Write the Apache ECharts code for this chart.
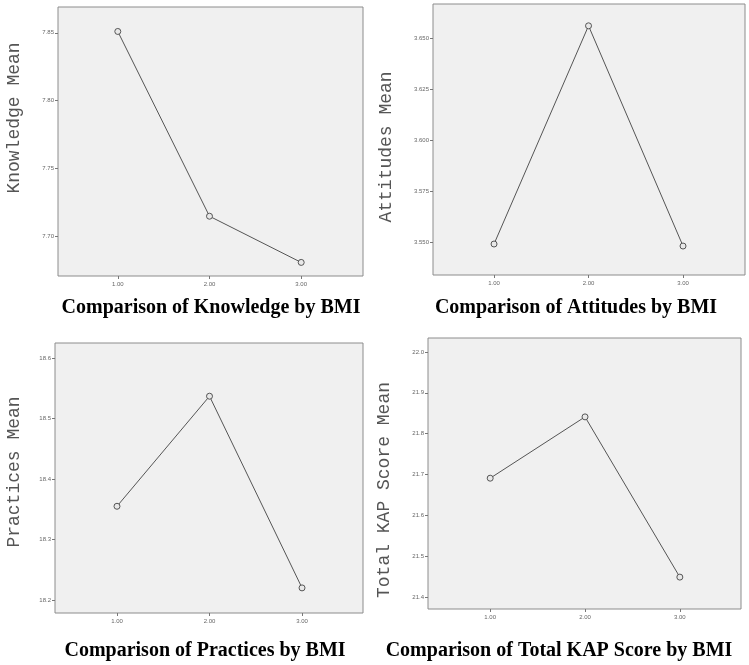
<!DOCTYPE html>
<html>
<head>
<meta charset="utf-8">
<script src="https://cdn.jsdelivr.net/npm/echarts@6/dist/echarts.min.js"></script>
<style>
  html, body { margin: 0; padding: 0; background: #fff; }
  #chart { width: 749px; height: 665px; }
</style>
</head>
<body>
<div id="chart"></div>
<script>
// BMI groups on the x axis
var bmiGroups = [1, 2, 3];
var xTicks = [1, 2, 3];

// group means
var knowledgeMean = [7.851, 7.715, 7.681];
var attitudesMean = [3.549, 3.656, 3.548];
var practicesMean = [18.355, 18.537, 18.220];
var totalKapMean = [21.691, 21.841, 21.449];

// y tick labels
var knowledgeTicks = [7.70, 7.75, 7.80, 7.85];
var attitudesTicks = [3.550, 3.575, 3.600, 3.625, 3.650];
var practicesTicks = [18.2, 18.3, 18.4, 18.5, 18.6];
var totalKapTicks = [21.4, 21.5, 21.6, 21.7, 21.8, 21.9, 22.0];

var panels = [
  { values: knowledgeMean, ticks: knowledgeTicks, dec: 2, yName: "Knowledge Mean", title: "Comparison of Knowledge by BMI",
    grid: { left: 58, top: 7, width: 305, height: 269 }, xMin: 0.348, xMax: 3.674, yMin: 7.671, yMax: 7.869,
    nameX: 14, nameY: 118, titleX: 211, titleY: 308 },
  { values: attitudesMean, ticks: attitudesTicks, dec: 3, yName: "Attitudes Mean", title: "Comparison of Attitudes by BMI",
    grid: { left: 433, top: 4, width: 312, height: 271 }, xMin: 0.354, xMax: 3.656, yMin: 3.5338, yMax: 3.6667,
    nameX: 386, nameY: 147, titleX: 576, titleY: 308 },
  { values: practicesMean, ticks: practicesTicks, dec: 1, yName: "Practices Mean", title: "Comparison of Practices by BMI",
    grid: { left: 55, top: 343, width: 308, height: 270 }, xMin: 0.330, xMax: 3.659, yMin: 18.1785, yMax: 18.625,
    nameX: 14, nameY: 472, titleX: 205, titleY: 651 },
  { values: totalKapMean, ticks: totalKapTicks, dec: 1, yName: "Total KAP Score Mean", title: "Comparison of Total KAP Score by BMI",
    grid: { left: 428, top: 338, width: 313, height: 271 }, xMin: 0.344, xMax: 3.645, yMin: 21.371, yMax: 22.034,
    nameX: 384, nameY: 490, titleX: 559, titleY: 651 }
];

var grids = [], xAxes = [], yAxes = [], series = [], graphics = [];

panels.forEach(function (p, i) {
  grids.push({
    left: p.grid.left, top: p.grid.top, width: p.grid.width, height: p.grid.height,
    show: true, backgroundColor: "#f0f0f0", borderColor: "#8c8c8c", borderWidth: 1
  });
  xAxes.push({
    type: "value", gridIndex: i, min: p.xMin, max: p.xMax,
    axisLine: { show: false },
    splitLine: { show: false },
    axisTick: { show: true, length: 3, customValues: xTicks, lineStyle: { color: "#777" } },
    axisLabel: {
      customValues: xTicks, margin: 5, fontSize: 6, color: "#666", fontFamily: "Liberation Sans",
      formatter: function (v) { return v.toFixed(2); }
    }
  });
  yAxes.push({
    type: "value", gridIndex: i, min: p.yMin, max: p.yMax,
    axisLine: { show: false },
    splitLine: { show: false },
    axisTick: { show: true, length: 3, customValues: p.ticks, lineStyle: { color: "#777" } },
    axisLabel: {
      customValues: p.ticks, margin: 4, fontSize: 6, color: "#666", fontFamily: "Liberation Sans",
      formatter: function (v) { return v.toFixed(p.dec); }
    }
  });
  series.push({
    type: "line", xAxisIndex: i, yAxisIndex: i,
    data: bmiGroups.map(function (g, k) { return [g, p.values[k]]; }),
    symbol: "circle", symbolSize: 6, showSymbol: true,
    lineStyle: { color: "#555", width: 1 },
    itemStyle: { color: "#e8e8e8", borderColor: "#555", borderWidth: 1 },
    emphasis: { disabled: true },
    animation: false
  });
  graphics.push({
    type: "text", x: p.nameX, y: p.nameY, rotation: Math.PI / 2,
    style: {
      text: p.yName, fill: "#555", font: "18px 'Liberation Mono'",
      align: "center", verticalAlign: "middle"
    }
  });
  graphics.push({
    type: "text", x: p.titleX, y: p.titleY,
    style: {
      text: p.title, fill: "#000", font: "bold 20px 'Liberation Serif'",
      align: "center", verticalAlign: "middle"
    }
  });
});

var chart = echarts.init(document.getElementById("chart"));
chart.setOption({
  animation: false,
  grid: grids,
  xAxis: xAxes,
  yAxis: yAxes,
  series: series,
  graphic: graphics
});
</script>
</body>
</html>
